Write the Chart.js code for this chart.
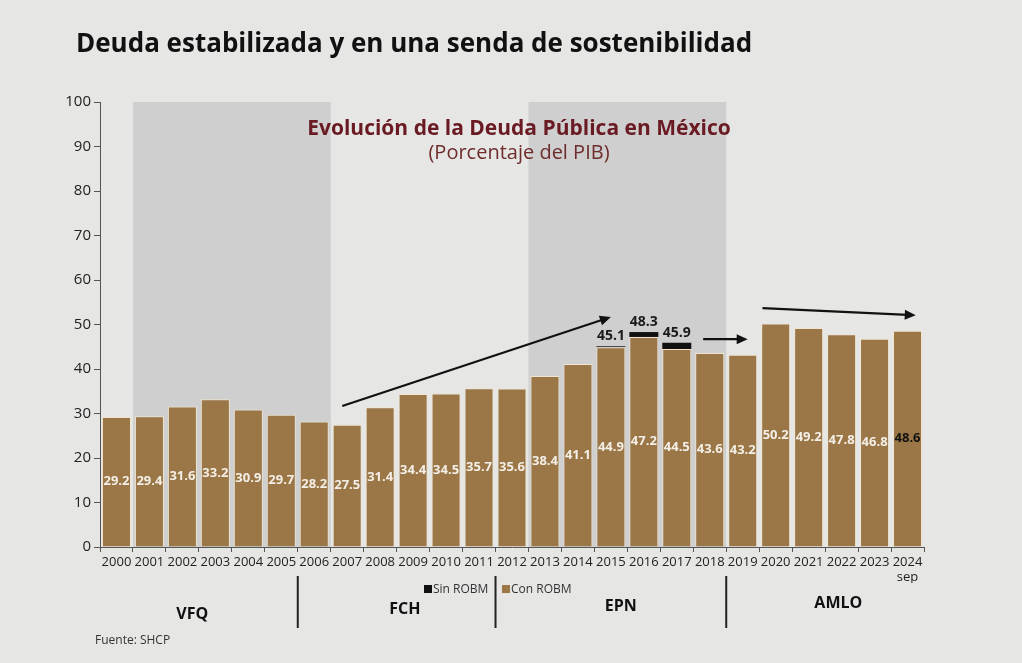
<!DOCTYPE html>
<html>
<head>
<meta charset="utf-8">
<script src="https://cdn.jsdelivr.net/npm/chart.js@4.4.1/dist/chart.umd.min.js"></script>
<style>
  html, body { margin: 0; padding: 0; background: #e6e6e5; }
  #wrap { width: 1022px; height: 663px; position: relative; }
</style>
</head>
<body>
<div id="wrap"><canvas id="deuda" width="1022" height="663"></canvas></div>
<script>
// años y valores (porcentaje del PIB)
const years = ["2000","2001","2002","2003","2004","2005","2006","2007","2008","2009","2010","2011","2012",
  "2013","2014","2015","2016","2017","2018","2019","2020","2021","2022","2023",["2024","sep"]];
const conRobm = [29.2,29.4,31.6,33.2,30.9,29.7,28.2,27.5,31.4,34.4,34.5,35.7,35.6,
  38.4,41.1,44.9,47.2,44.5,43.6,43.2,50.2,49.2,47.8,46.8,48.6];
const sinRobm = [null,null,null,null,null,null,null,null,null,null,null,null,null,
  null,null,0.2,1.1,1.4,null,null,null,null,null,null,null];
const totalLabels = [null,null,null,null,null,null,null,null,null,null,null,null,null,
  null,null,"45.1","48.3","45.9",null,null,null,null,null,null,null];
const yTicks = [0,10,20,30,40,50,60,70,80,90,100];

// sexenios: bandas grises (índices de años) y etiquetas
const shadedRanges = [[1, 6], [13, 18]];
const periodNames = ["VFQ", "FCH", "EPN", "AMLO"];
const periodCenters = [2.3, 8.75, 15.3, 21.9];
const periodSeparators = [6, 12, 19];

// flechas de tendencia: [índice, valor] -> [índice, valor]
const trendArrows = [
  [[6.85, 31.7], [15.0, 51.7]],
  [[17.8, 46.7], [19.15, 46.7]],
  [[19.6, 53.7], [24.25, 52.1]]
];

const BROWN = "#9b7748";
const FONT = "'Open Sans', 'Noto Sans', sans-serif";

const decor = {
  id: "decor",
  beforeDatasetsDraw(chart) {
    const { ctx, scales: { x, y } } = chart;
    const half = (x.getPixelForValue(1) - x.getPixelForValue(0)) / 2;
    ctx.save();
    ctx.fillStyle = "#cfcfcf";
    shadedRanges.forEach(([a, b]) => {
      const l = x.getPixelForValue(a) - half;
      const r = x.getPixelForValue(b) + half;
      ctx.fillRect(l, y.getPixelForValue(100), r - l, y.getPixelForValue(0) - y.getPixelForValue(100));
    });
    ctx.restore();
  },
  afterDatasetsDraw(chart) {
    const { ctx, scales: { x, y } } = chart;
    const m0 = chart.getDatasetMeta(0);
    const m1 = chart.getDatasetMeta(1);
    ctx.save();
    ctx.textAlign = "center";
    ctx.textBaseline = "middle";
    ctx.font = "bold 13px " + FONT;
    conRobm.forEach((v, i) => {
      const bar = m0.data[i];
      ctx.fillStyle = i === conRobm.length - 1 ? "#111" : "#f4efe6";
      ctx.fillText(v.toFixed(1), bar.x, (bar.y + bar.base) / 2);
    });
    ctx.fillStyle = "#1a1a1a";
    ctx.font = "bold 14px " + FONT;
    ctx.textBaseline = "bottom";
    totalLabels.forEach((t, i) => {
      if (!t) return;
      ctx.fillText(t, m1.data[i].x, m1.data[i].y - 3);
    });

    // flechas
    ctx.strokeStyle = "#111";
    ctx.fillStyle = "#111";
    ctx.lineWidth = 2.2;
    trendArrows.forEach(([p, q]) => {
      const x1 = x.getPixelForValue(p[0]), y1 = y.getPixelForValue(p[1]);
      const x2 = x.getPixelForValue(q[0]), y2 = y.getPixelForValue(q[1]);
      const ang = Math.atan2(y2 - y1, x2 - x1);
      ctx.beginPath();
      ctx.moveTo(x1, y1);
      ctx.lineTo(x2 - 8 * Math.cos(ang), y2 - 8 * Math.sin(ang));
      ctx.stroke();
      ctx.beginPath();
      ctx.moveTo(x2, y2);
      ctx.lineTo(x2 - 11 * Math.cos(ang) + 5 * Math.sin(ang), y2 - 11 * Math.sin(ang) - 5 * Math.cos(ang));
      ctx.lineTo(x2 - 11 * Math.cos(ang) - 5 * Math.sin(ang), y2 - 11 * Math.sin(ang) + 5 * Math.cos(ang));
      ctx.closePath();
      ctx.fill();
    });

    // título interno
    ctx.textBaseline = "middle";
    ctx.fillStyle = "#6a1a22";
    ctx.font = "bold 21px " + FONT;
    ctx.fillText("Evolución de la Deuda Pública en México", 519, 129);
    ctx.fillStyle = "#6e2c2c";
    ctx.font = "20px " + FONT;
    ctx.fillText("(Porcentaje del PIB)", 519, 153);
    ctx.restore();
  },
  afterDraw(chart) {
    const { ctx, scales: { x } } = chart;
    const half = (x.getPixelForValue(1) - x.getPixelForValue(0)) / 2;
    ctx.save();
    // título principal
    ctx.fillStyle = "#111";
    ctx.font = "bold 26px " + FONT;
    ctx.textBaseline = "middle";
    ctx.textAlign = "left";
    ctx.fillText("Deuda estabilizada y en una senda de sostenibilidad", 76, 45);

    // leyenda
    ctx.font = "12px " + FONT;
    ctx.fillStyle = "#111";
    ctx.fillRect(424, 585, 8, 8);
    ctx.fillStyle = "#333";
    ctx.fillText("Sin ROBM", 433, 590);
    ctx.fillStyle = BROWN;
    ctx.fillRect(502, 585, 8, 8);
    ctx.fillStyle = "#333";
    ctx.fillText("Con ROBM", 511, 590);

    // sexenios
    ctx.strokeStyle = "#222";
    ctx.lineWidth = 2;
    periodSeparators.forEach(b => {
      const px = x.getPixelForValue(b) - half;
      ctx.beginPath();
      ctx.moveTo(px, 576);
      ctx.lineTo(px, 628);
      ctx.stroke();
    });
    ctx.textAlign = "center";
    ctx.font = "bold 16px " + FONT;
    ctx.fillStyle = "#111";
    const pys = [614, 609, 606, 603];
    periodNames.forEach((n, i) => ctx.fillText(n, x.getPixelForValue(periodCenters[i]), pys[i]));

    ctx.textAlign = "left";
    ctx.font = "12px " + FONT;
    ctx.fillStyle = "#333";
    ctx.fillText("Fuente: SHCP", 95, 641);
    ctx.restore();
  }
};

new Chart(document.getElementById("deuda"), {
  type: "bar",
  data: {
    labels: years,
    datasets: [
      {
        label: "Con ROBM",
        data: conRobm,
        backgroundColor: BROWN,
        borderColor: "#efe5d0",
        borderWidth: 1,
        barPercentage: 0.88,
        categoryPercentage: 1,
      },
      {
        label: "Sin ROBM",
        data: sinRobm,
        backgroundColor: "#111",
        borderWidth: 0,
        barPercentage: 0.88,
        categoryPercentage: 1,
      },
    ],
  },
  options: {
    responsive: false,
    animation: false,
    layout: { padding: { left: 40, right: 98, top: 102, bottom: 80 } },
    plugins: {
      legend: { display: false },
      tooltip: { enabled: false },
    },
    scales: {
      x: {
        stacked: true,
        grid: { drawOnChartArea: false, color: "#555", tickLength: 5, offset: true },
        border: { color: "#555", width: 1 },
        ticks: { color: "#222", font: { family: FONT, size: 13 }, padding: 2, maxRotation: 0, autoSkip: false },
        afterFit: s => { s.height = 36; },
      },
      y: {
        stacked: true,
        min: 0,
        max: 100,
        afterBuildTicks: s => { s.ticks = yTicks.map(v => ({ value: v })); },
        grid: { drawOnChartArea: false, color: "#555", tickLength: 6 },
        border: { color: "#555", width: 1 },
        ticks: { color: "#222", font: { family: FONT, size: 15 }, padding: 3 },
        afterFit: s => { s.width = 60; },
      },
    },
  },
  plugins: [decor],
});
</script>
</body>
</html>
